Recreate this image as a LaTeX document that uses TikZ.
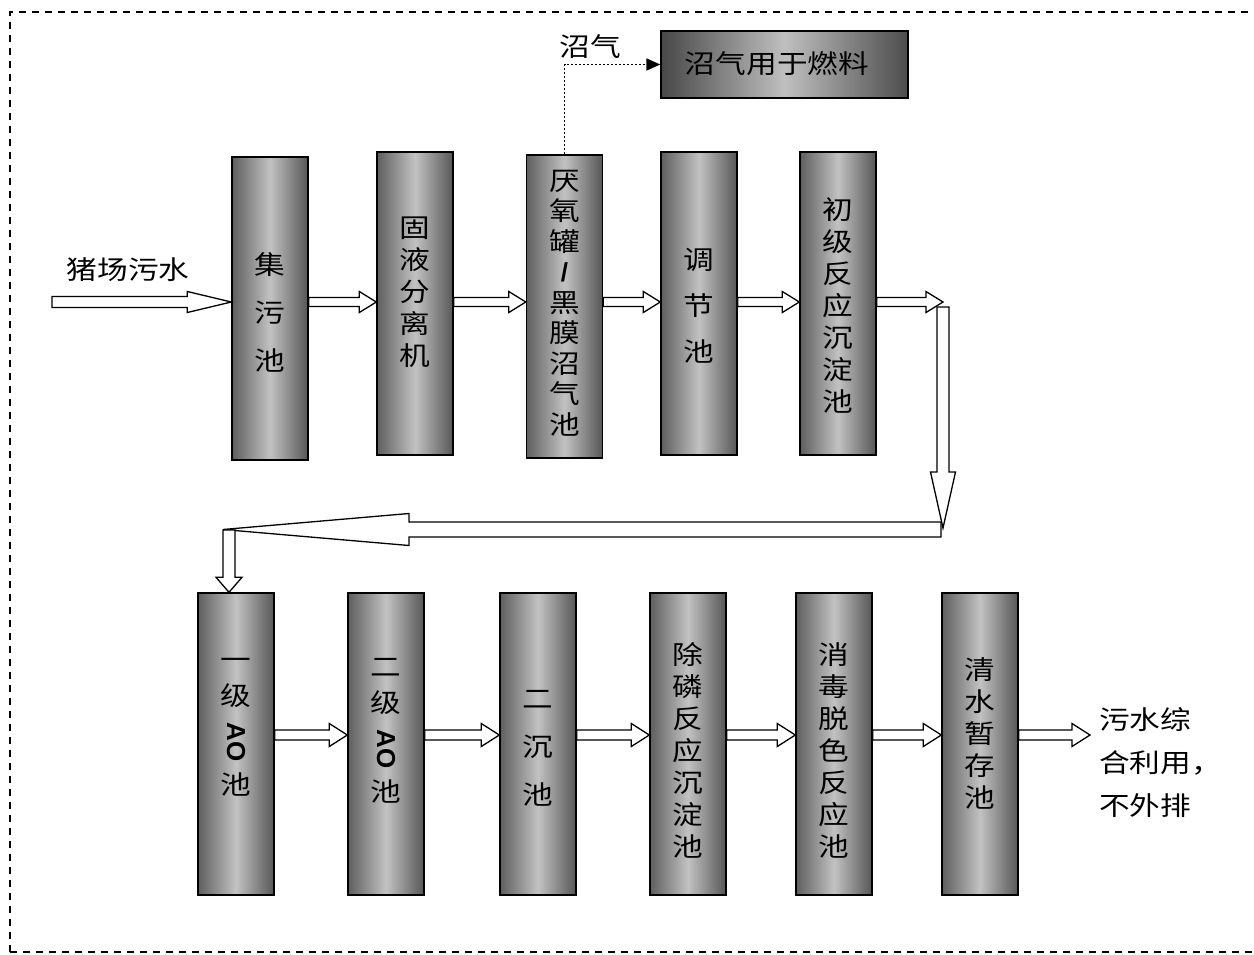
\documentclass[tikz,border=0pt]{standalone}
\usepackage{fontspec}
\setmainfont{Noto Sans CJK SC}[FakeStretch=1.18]
\newfontfamily\arialf{Liberation Sans}
\usetikzlibrary{calc,arrows.meta}
\tikzset{
  box/.style={draw, line width=1.4pt, inner sep=0pt, minimum width=76pt, minimum height=303pt,
    left color=black!63, right color=black!66, middle color=black!24},
  vtext/.style={align=center, inner sep=0pt, font=\fontsize{26}{#1}\selectfont},
  blk/.style={draw, fill=white, line width=1.3pt, line join=miter},
  lbl/.style={inner sep=0pt, font=\fontsize{26}{30}\selectfont},
  gasline/.style={line width=1.8pt, dash pattern=on 2pt off 2pt, -{Triangle[length=14pt,width=12pt]}},
  frame/.style={line width=1.4pt, dash pattern=on 7pt off 6pt},
}
\newcommand\aofont{\arialf\bfseries\fontsize{26}{30}\selectfont}
% block arrows: from, to, shaft half width, head half width, head length
\newcommand\rarr[5]{\path[blk] let \p1=(#1), \p2=(#2) in
  (\x1,\y1+#3) -- (\x2-#5,\y1+#3) -- (\x2-#5,\y1+#4) -- (\x2,\y1) -- (\x2-#5,\y1-#4) -- (\x2-#5,\y1-#3) -- (\x1,\y1-#3) -- cycle;}
\newcommand\larr[5]{\path[blk] let \p1=(#1), \p2=(#2) in
  (\x1,\y1+#3) -- (\x2+#5,\y1+#3) -- (\x2+#5,\y1+#4) -- (\x2,\y1) -- (\x2+#5,\y1-#4) -- (\x2+#5,\y1-#3) -- (\x1,\y1-#3) -- cycle;}
\newcommand\darr[5]{\path[blk] let \p1=(#1), \p2=(#2) in
  (\x1-#3,\y1) -- (\x1-#3,\y2+#5) -- (\x1-#4,\y2+#5) -- (\x1,\y2) -- (\x1+#4,\y2+#5) -- (\x1+#3,\y2+#5) -- (\x1+#3,\y1) -- cycle;}
\begin{document}
\begin{tikzpicture}[x=1pt,y=-1pt]
\useasboundingbox (0,0) rectangle (1254,954);
\draw[frame] (10,952) -- (10,12) -- (1266,12);
\draw[frame] (10,952) -- (1266,952);

% row 1 boxes
\node[box] (b1) at (270,308.5) {};
\node[box] (b2) at (415,303.5) {};
\node[box] (b3) at (564.5,306.5) {};
\node[box] (b4) at (699,303.5) {};
\node[box] (b5) at (838,303.5) {};
% row 2 boxes
\node[box, minimum height=302pt] (c1) at (236,744) {};
\node[box, minimum height=302pt] (c2) at (386,744) {};
\node[box, minimum height=302pt] (c3) at (538,744) {};
\node[box, minimum height=302pt] (c4) at (688,744) {};
\node[box, minimum height=302pt] (c5) at (834,744) {};
\node[box, minimum height=302pt] (c6) at (980,744) {};
% fuel box
\node[draw, line width=1.4pt, inner sep=0pt, minimum width=247pt, minimum height=67pt,
  left color=black!72, right color=black!70, middle color=black!25] (fuel) at (784.5,64.5) {};
\node[lbl] (fuelt) at (777,64) {沼气用于燃料};

% texts in boxes
\node[vtext=48] (t1) at (270,312) {集\\污\\池};
\node[vtext=32] (t2) at (415,292) {固\\液\\分\\离\\机};
\node[vtext=30.5] (t3) at (564.5,303) {厌\\氧\\罐\\{\arialf\bfseries /}\\黑\\膜\\沼\\气\\池};
\node[vtext=46] (t4) at (699,306) {调\\节\\池};
\node[vtext=32] (t5) at (838,305) {初\\级\\反\\应\\沉\\淀\\池};
\node[vtext=36, anchor=north] (s1) at (236,658) {一\\级\\[-19pt]\rotatebox{-90}{\aofont AO}\\[10pt]池};
\node[vtext=36, anchor=north] (s2) at (386,658) {二\\级\\[-19pt]\rotatebox{-90}{\aofont AO}\\[10pt]池};
\node[vtext=48] (s3) at (538,748) {二\\沉\\池};
\node[vtext=32] (s4) at (688,750) {除\\磷\\反\\应\\沉\\淀\\池};
\node[vtext=32] (s5) at (834,750) {消\\毒\\脱\\色\\反\\应\\池};
\node[vtext=32] (s6) at (980,733) {清\\水\\暂\\存\\池};

% labels
\node[lbl] (inl) at (128,270) {猪场污水};
\node[lbl] (gasl) at (590,47) {沼气};
\node[lbl, align=left, anchor=north west, font=\fontsize{26}{43}\selectfont] (outl) at (1099,707) {污水综\\合利用，\\不外排};

% coordinates
\coordinate (r1) at (0,302);
\coordinate (r2) at (0,735);
\coordinate (in) at (52,302);
\coordinate (out) at (1090,735);
\coordinate (u0) at (943,307);
\coordinate (u1) at (943,302);
\coordinate (u2) at (943,528);
\coordinate (u3) at (941,529.5);
\coordinate (u4) at (223,529.5);
\coordinate (u5) at (229,530);

% biogas
\draw[gasline] (b3.north) |- (fuel.west);

% row 1 arrows
\rarr{in}{b1.west |- r1}{5.5pt}{10.5pt}{44pt}
\rarr{b1.east |- r1}{b2.west |- r1}{4.5pt}{10.5pt}{17pt}
\rarr{b2.east |- r1}{b3.west |- r1}{4.5pt}{10.5pt}{17pt}
\rarr{b3.east |- r1}{b4.west |- r1}{4.5pt}{10.5pt}{17pt}
\rarr{b4.east |- r1}{b5.west |- r1}{4.5pt}{10.5pt}{17pt}
\rarr{b5.east |- r1}{u1}{4.5pt}{10.5pt}{17pt}
% U-turn
\larr{u3}{u4}{7.5pt}{16pt}{186pt}
\darr{u0}{u2}{6pt}{12.5pt}{56pt}
\darr{u5}{u5 |- c1.north}{6pt}{13pt}{15pt}
% row 2 arrows
\rarr{c1.east |- r2}{c2.west |- r2}{5pt}{11.5pt}{18pt}
\rarr{c2.east |- r2}{c3.west |- r2}{5pt}{11.5pt}{18pt}
\rarr{c3.east |- r2}{c4.west |- r2}{5pt}{11.5pt}{18pt}
\rarr{c4.east |- r2}{c5.west |- r2}{5pt}{11.5pt}{18pt}
\rarr{c5.east |- r2}{c6.west |- r2}{5pt}{11.5pt}{18pt}
\rarr{c6.east |- r2}{out}{5pt}{11.5pt}{18pt}
\end{tikzpicture}
\end{document}
